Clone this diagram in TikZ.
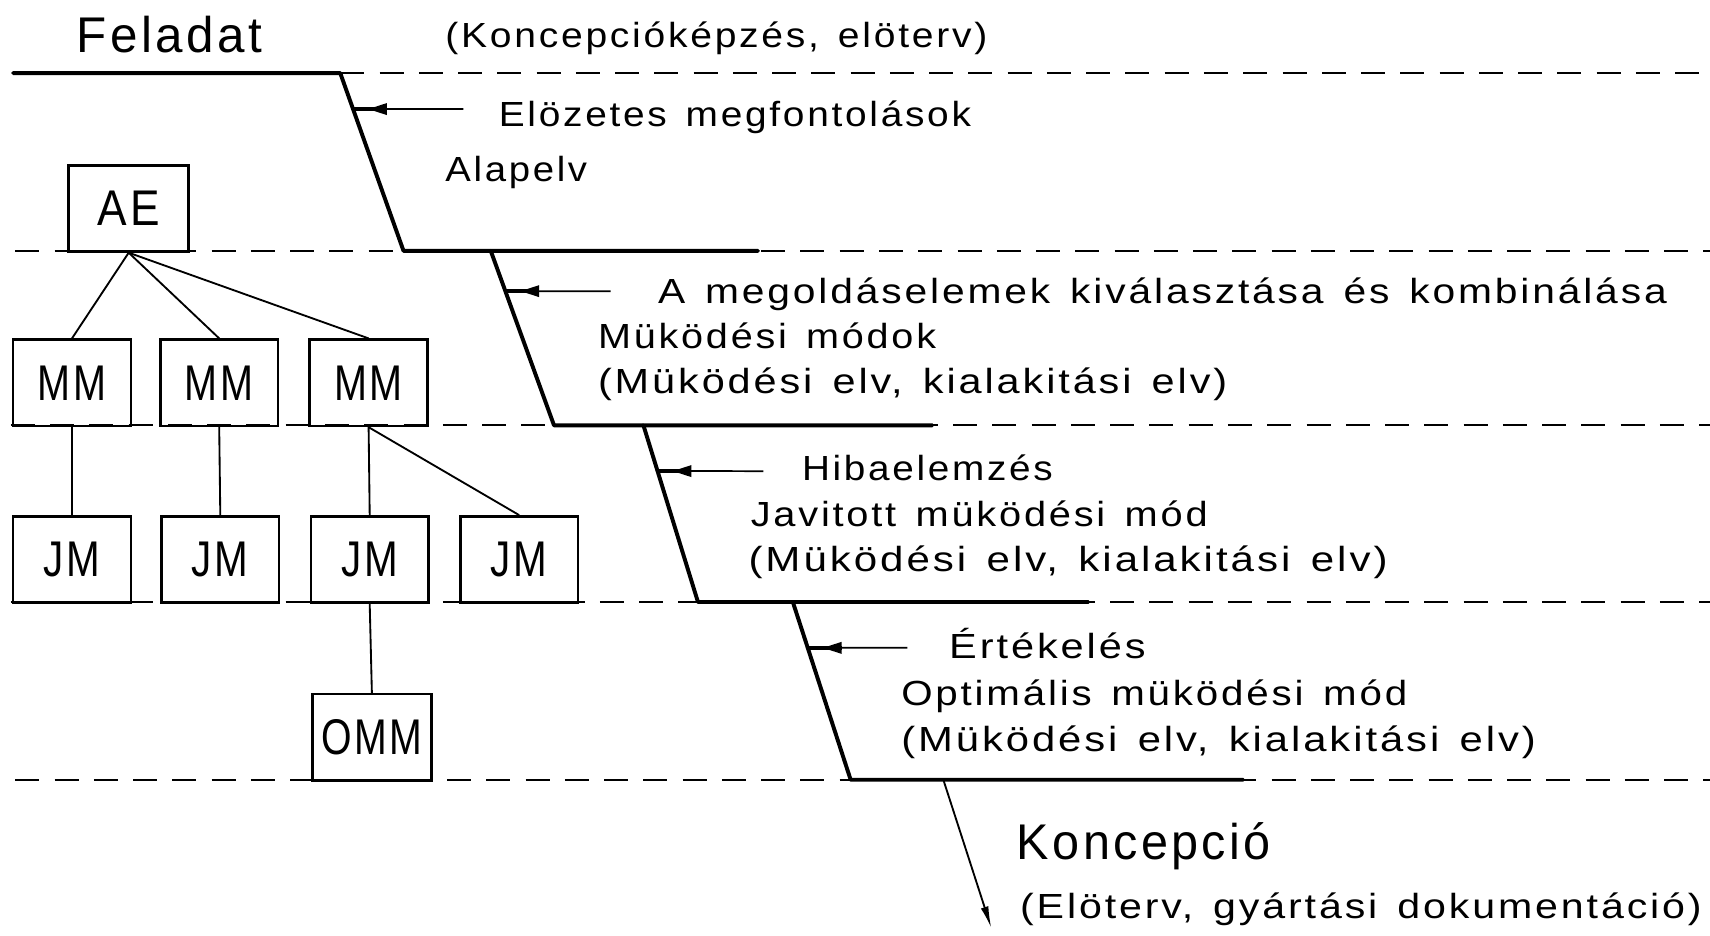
\documentclass[tikz,border=0pt]{standalone}
\usepackage{fontspec}
\usepackage{graphicx}
\setmainfont{Liberation Sans}[LetterSpace=7, WordSpace=1.4]
\usetikzlibrary{arrows.meta,calc}

% one drawing unit
\newlength\pxu
\setlength\pxu{0.5pt}
% set a text at its natural height, stretched to a given width
\newcommand\fitto[2]{\resizebox{#1\pxu}{\height}{#2}}

\tikzset{
  stair/.style={line width=1.8pt, line join=round, line cap=round},
  guide/.style={line width=0.9pt, dash pattern=on 11pt off 7pt},
  blockbox/.style={draw, line width=1.2pt, inner sep=0pt,
    minimum width=108\pxu, minimum height=79\pxu, font=\fontsize{23}{23}\selectfont},
  link/.style={line width=0.85pt},
  leader/.style={line width=0.8pt},
  shaft/.style={line width=1.8pt},
  dart/.style={fill=black, line join=round},
  lbl/.style={anchor=base west, inner sep=0pt, font=\fontsize{16}{16}\selectfont},
  biglbl/.style={anchor=base west, inner sep=0pt, font=\fontsize{23}{23}\selectfont},
}

\begin{document}
\begin{tikzpicture}[x=0.5pt, y=-0.5pt]
\useasboundingbox (0,0) rectangle (1568,858);

% horizontal phase boundaries
\draw[guide] (312,67) -- (1568,67);
\foreach \yy/\xs in {230/14, 390/10, 552/10, 715/14}
  \draw[guide] (\xs,\yy) -- (1568,\yy);

% stepped process line
\coordinate (s0) at (12,67);   \coordinate (s1) at (312,67);
\coordinate (s2) at (370,230); \coordinate (s3) at (695,230);
\coordinate (t1) at (450,230); \coordinate (t2) at (508,390); \coordinate (t3) at (855,390);
\coordinate (u1) at (590,390); \coordinate (u2) at (640,552); \coordinate (u3) at (998,552);
\coordinate (v1) at (727,552); \coordinate (v2) at (780,715); \coordinate (v3) at (1140,715);
\draw[stair] (s0) -- (s1) -- (s2) -- (s3);
\draw[stair] (t1) -- (t2) -- (t3);
\draw[stair] (u1) -- (u2) -- (u3);
\draw[stair] (v1) -- (v2) -- (v3);

% output of the last step
\coordinate (w0) at (865,715);
\coordinate (w1) at (909,851);
\draw[link, -{Latex[length=10pt,width=3.6pt]}] (w0) -- (w1);

% activity pointers: thin leader, dart head, heavy shaft to the step line
\foreach \n/\a/\b/\f/\px/\py in {1/s1/s2/0.2025/425/100, 2/t1/t2/0.231/560/267,
                                  3/u1/u2/0.259/700/432, 4/v1/v2/0.258/832/594}{
  \coordinate (p\n) at (\px,\py);
  \coordinate (d\n) at ($(\a)!\f!(\b)$);
  \coordinate (h\n) at ($(d\n)+(31,0)$);
  \draw[leader] (p\n) -- (d\n);
  \draw[shaft] (d\n) -- (h\n);
  \fill[dart] ($(h\n)+(-17,0)$) -- ($(h\n)+(0,-5.5)$) -- ($(h\n)+(0,5.5)$) -- cycle;
}

% texts
\node[biglbl] (feladat) at (70,48) {\fitto{170}{Feladat}};
\node[lbl] (konc) at (408,44) {\fitto{497}{(Koncepcióképzés, elöterv)}};
\node[lbl] (elo) at (457,116) {\fitto{433}{Elözetes megfontolások}};
\node[lbl] (alap) at (408,166) {\fitto{130}{Alapelv}};
\node[lbl] (megold) at (603,278) {\fitto{925}{A megoldáselemek kiválasztása és kombinálása}};
\node[lbl] (mm) at (548,320) {\fitto{310}{Müködési módok}};
\node[lbl] (mmelv) at (548,361) {\fitto{577}{(Müködési elv, kialakitási elv)}};
\node[lbl] (hiba) at (735,441) {\fitto{230}{Hibaelemzés}};
\node[lbl] (jav) at (688,483) {\fitto{419}{Javitott müködési mód}};
\node[lbl] (javelv) at (686,524) {\fitto{586}{(Müködési elv, kialakitási elv)}};
\node[lbl] (ert) at (870,604) {\fitto{180}{Értékelés}};
\node[lbl] (opt) at (826,647) {\fitto{464}{Optimális müködési mód}};
\node[lbl] (optelv) at (826,689) {\fitto{582}{(Müködési elv, kialakitási elv)}};
\node[biglbl] (koncepcio) at (932,788) {\fitto{233}{Koncepció}};
\node[lbl] (doku) at (935,842) {\fitto{625}{(Elöterv, gyártási dokumentáció)}};

% solution tree
\node[blockbox, minimum width=110\pxu] (ae) at (118,191) {\fitto{57}{AE}};
\node[blockbox] (mm1) at (66,351) {\fitto{63}{MM}};
\node[blockbox] (mm2) at (201,351) {\fitto{63}{MM}};
\node[blockbox] (mm3) at (338,351) {\fitto{63}{MM}};
\node[blockbox] (jm1) at (66,513) {\fitto{52}{JM}};
\node[blockbox] (jm2) at (202,513) {\fitto{52}{JM}};
\node[blockbox] (jm3) at (339,513) {\fitto{52}{JM}};
\node[blockbox] (jm4) at (476,513) {\fitto{52}{JM}};
\node[blockbox, minimum width=109\pxu] (omm) at (341,676) {\fitto{93}{OMM}};

\draw[link] (ae.south) -- (mm1.north);
\draw[link] (ae.south) -- (mm2.north);
\draw[link] (ae.south) -- (mm3.north);
\draw[link] (mm1.south) -- (jm1.north);
\draw[link] (mm2.south) -- (jm2.north);
\draw[link] (mm3.south) -- (jm3.north);
\draw[link] (mm3.south) -- (jm4.north);
\draw[link] (jm3.south) -- (omm.north);
\end{tikzpicture}
\end{document}
